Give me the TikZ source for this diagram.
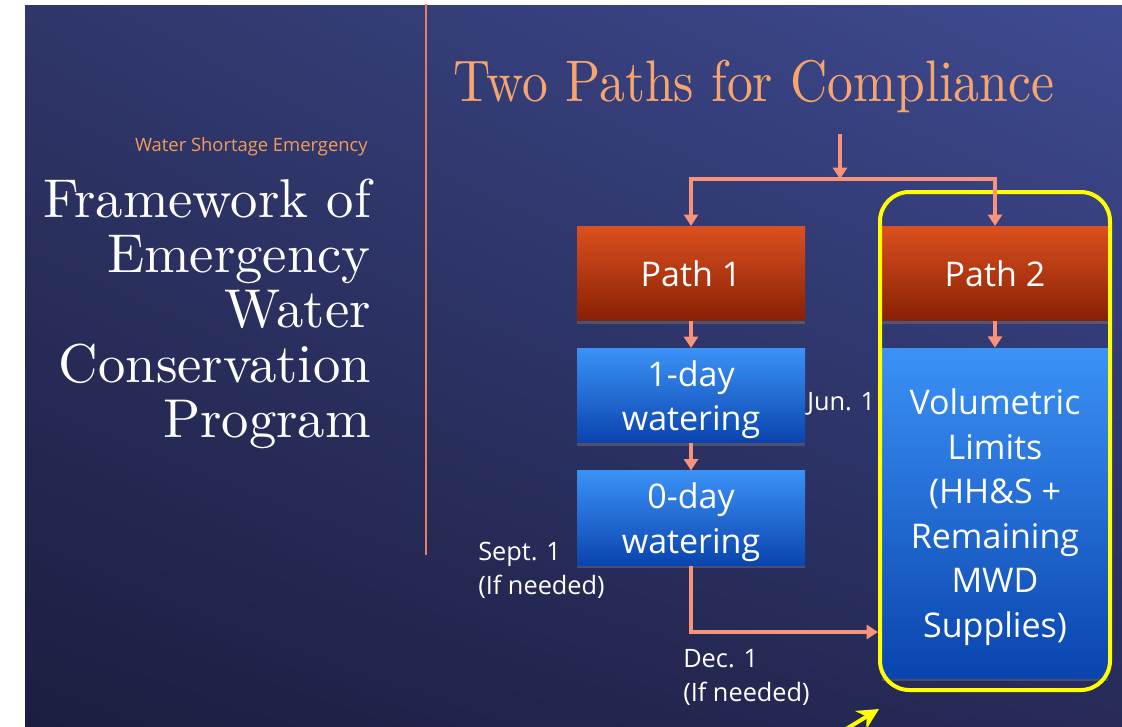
\documentclass[tikz,border=0pt]{standalone}
\usepackage{fontspec}
\setsansfont{Open Sans}
\newfontfamily\headfont{lmroman10-regular.otf}
\newfontfamily\titlefont{lmroman10-regular.otf}[FakeStretch=0.88]
\usetikzlibrary{arrows.meta,shadows,shadings}

\definecolor{bgUL}{HTML}{2F3669}
\definecolor{bgUR}{HTML}{3F4B92}
\definecolor{bgLL}{HTML}{1C1E40}
\definecolor{bgLR}{HTML}{262B58}
\definecolor{pathtop}{HTML}{DC5020}
\definecolor{pathbot}{HTML}{872004}
\definecolor{watertop}{HTML}{3B92F6}
\definecolor{waterbot}{HTML}{0A44AE}
\definecolor{flowc}{HTML}{F7937A}
\definecolor{headc}{HTML}{F6A56E}
\definecolor{kickc}{HTML}{F39C5A}
\definecolor{rulec}{HTML}{E5805E}
\definecolor{hilitec}{HTML}{FFFF00}

\begin{document}
\begin{tikzpicture}[x=0.75pt, y=-0.75pt,
    flow/.style={draw=flowc, line width=3pt, -{Triangle[width=10.5pt,length=8.5pt]}},
    pathbox/.style={rectangle, top color=pathtop, bottom color=pathbot, text=white,
        minimum width=171pt, minimum height=71pt, inner sep=0pt,
        font=\sffamily\fontsize{25.5}{33.4}\selectfont,
        drop shadow={shadow xshift=0pt, shadow yshift=-2pt, opacity=0.4}},
    waterbox/.style={pathbox, top color=watertop, bottom color=waterbot, align=center,
        text depth=-1.5pt},
    datelbl/.style={text=white, inner sep=0pt, align=left,
        font=\sffamily\fontsize{19}{25.5}\selectfont},
    hilite/.style={draw=hilitec, line width=3pt, rounded corners=22pt}]

    % Page and background
    \useasboundingbox (0,0) rectangle (1122,726);
    \clip (0,0) rectangle (1122,726);
    \fill[white] (0,0) rectangle (1122,726);
    \shade[upper left=bgUL, upper right=bgUR, lower left=bgLL, lower right=bgLR]
        (25,5) rectangle (1122,726);
    \draw[rulec, line width=1.2pt] (426,4) -- (426,555);

    % Left heading
    \node[anchor=east, inner sep=0pt, text=kickc, font=\sffamily\fontsize{13.8}{16}\selectfont]
        (kicker) at (368,147) {Water Shortage Emergency};
    \node[anchor=north east, inner sep=0pt, align=right, text=white,
        font=\headfont\fontsize{41}{41.25}\selectfont]
        (heading) at (371,179) {Framework of\\Emergency\\Water\\Conservation\\Program};

    % Title
    \node[anchor=base, inner sep=0pt, text=headc, font=\titlefont\fontsize{44}{46}\selectfont]
        (title) at (754,101) {Two Paths for Compliance};

    % Boxes
    \node[pathbox] (path1) at (691,273.5) {Path 1};
    \node[pathbox, minimum width=169.5pt] (path2) at (995,273.5) {Path 2};
    \node[waterbox] (oneday) at (691,395.5) {1-day\\watering};
    \node[waterbox] (zeroday) at (691,518) {0-day\\watering};
    \node[waterbox, minimum width=169.5pt, minimum height=247.5pt] (volume) at (995,513)
        {Volumetric\\Limits\\(HH\&S +\\Remaining\\MWD\\Supplies)};
    \node[hilite, minimum width=172.5pt, minimum height=373.5pt] (frame) at (995,441) {};

    % Dates
    \node[datelbl, anchor=west] (jun) at (807,404) {Jun. 1};
    \node[datelbl, anchor=north west] (sept) at (478,542) {Sept. 1\\(If needed)};
    \node[datelbl, anchor=north west] (dec) at (683,649) {Dec. 1\\(If needed)};

    % Connections
    \coordinate (start) at (840,134);
    \coordinate (split) at (840,179);
    \coordinate (decpt) at (878,632);
    \draw[flow] (start) -- (split);
    \draw[flow] (split) -| (path1);
    \draw[flow] (split) -| (path2);
    \draw[flow] (path1) -- (oneday);
    \draw[flow] (path2) -- (volume);
    \draw[flow] (oneday) -- (zeroday);
    \draw[flow] (zeroday) |- (decpt);

    % Pointer
    \coordinate (ptail) at (815,748);
    \coordinate (ptip) at (879,709);
    \draw[hilitec, line width=3pt, -{Stealth[length=16pt,width=16pt]}] (ptail) -- (ptip);
\end{tikzpicture}
\end{document}
